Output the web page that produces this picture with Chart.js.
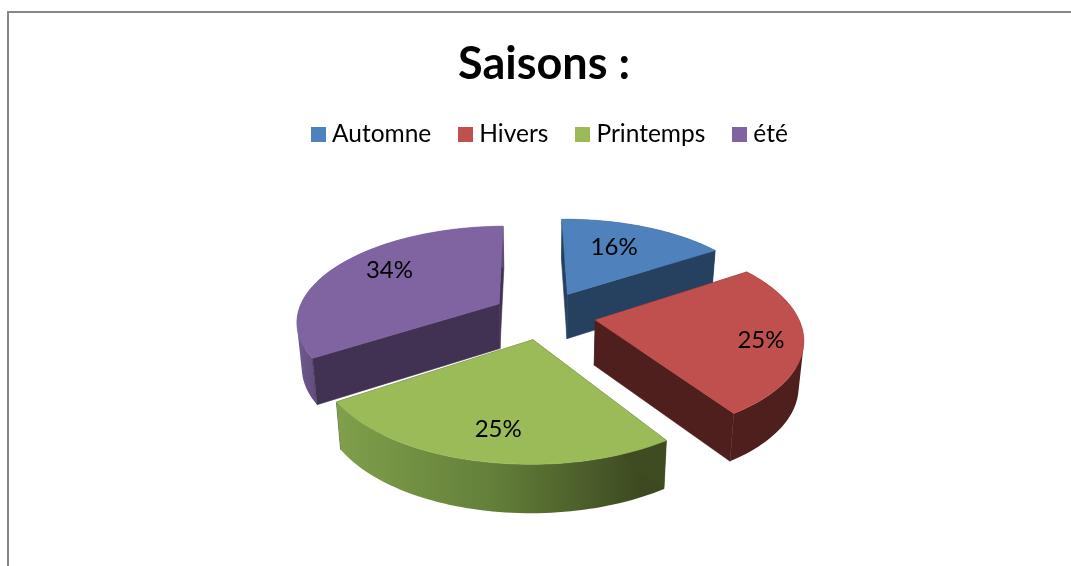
<!DOCTYPE html>
<html lang="fr">
<head>
<meta charset="utf-8">
<title>Saisons</title>
<script src="https://cdn.jsdelivr.net/npm/chart.js@4.4.1/dist/chart.umd.min.js"></script>
<style>
  html, body { margin: 0; padding: 0; background: #fff; overflow: hidden; }
  #wrap { position: relative; width: 1071px; height: 566px; overflow: hidden; }
  #frame { position: absolute; left: 7px; top: 11px; width: 1200px; height: 700px; border: 2px solid #868686; box-sizing: border-box; }
  #seasons { position: absolute; left: 0; top: 0; }
  #legendBar { position: absolute; left: 311px; top: 118px; display: flex; gap: 27px; font: 24.5px Lato, sans-serif; color: #000; line-height: 30px; white-space: nowrap; }
  .item { display: flex; align-items: center; }
  .swatch { width: 15px; height: 15px; margin-right: 6px; position: relative; top: 1px; }
</style>
</head>
<body>
<div id="wrap">
  <div id="frame"></div>
  <canvas id="seasons" width="1071" height="566"></canvas>
  <div id="legendBar"></div>
</div>
<script>
/* données */
const categories = ["Automne", "Hivers", "Printemps", "été"];
const values = [16, 25, 25, 34];
const titleText = "Saisons :";

/* couleurs */
const topColors = ["#4f81bd", "#c0504d", "#9bbb59", "#8064a2"];
const cutColors = ["#26405f", "#4f1f1d", "#3f4c22", "#413253"];

/* réglages de la vue 3D */
const scaleX = 1.018, scaleY = 0.4746, persp = 0.168, depth = 45, dropShrink = 0.98;
const labelFrac = [0.654, 0.80, 0.766, 0.705];
const labelNudge = [[-6, -1], [0, 4], [5, 1], [5, -5]];

// projette un point du plan du camembert vers l'écran
function project(el, p, drop) {
  const v = p[1] / el.outerRadius;
  const k = 1 / (1 - persp * v);
  const dx = scaleX * p[0] * k;
  return {
    x: el.x + (drop ? dx * dropShrink : dx),
    y: el.y + scaleY * p[1] * k + (drop ? depth * (1 + 0.07 * v) : 0),
  };
}

function outerWallFill(ctx, i) {
  if (i === 2) {
    const g = ctx.createLinearGradient(340, 0, 640, 0);
    g.addColorStop(0, "#7f9f4b");
    g.addColorStop(0.5, "#64803a");
    g.addColorStop(1, "#3d4a21");
    return g;
  }
  if (i === 3) {
    const g = ctx.createLinearGradient(296, 0, 322, 0);
    g.addColorStop(0, "#705b8e");
    g.addColorStop(1, "#5c4978");
    return g;
  }
  return cutColors[i];
}

function addPoly(ctx, points) {
  points.forEach((s, n) => (n ? ctx.lineTo(s.x, s.y) : ctx.moveTo(s.x, s.y)));
  ctx.closePath();
}

function fillPoly(ctx, points, fill) {
  ctx.beginPath();
  addPoly(ctx, points);
  ctx.fillStyle = fill;
  ctx.fill();
  ctx.strokeStyle = fill;
  ctx.lineWidth = 0.6;
  ctx.stroke();
}

// signe de l'aire, pour garder tous les quadrilatères dans le même sens
function area(q) {
  let a = 0;
  q.forEach((p, n) => {
    const r = q[(n + 1) % q.length];
    a += p.x * r.y - r.x * p.y;
  });
  return a;
}

const pie3d = {
  id: "pie3d",
  beforeDatasetsDraw(chart) {
    const ctx = chart.ctx;
    const arcs = chart.getDatasetMeta(0).data;
    const order = arcs.map((el, i) => i).sort((a, b) => {
      const ma = (arcs[a].startAngle + arcs[a].endAngle) / 2;
      const mb = (arcs[b].startAngle + arcs[b].endAngle) / 2;
      return Math.sin(ma) - Math.sin(mb);
    });

    order.forEach((i) => {
      const el = arcs[i];
      const mid = (el.startAngle + el.endAngle) / 2;
      const ox = el.options.offset * Math.cos(mid);
      const oy = el.options.offset * Math.sin(mid);
      const R = el.outerRadius;

      const tip = [ox, oy];
      const rim = [];
      const steps = 60;
      for (let s = 0; s <= steps; s++) {
        const a = el.startAngle + (el.endAngle - el.startAngle) * s / steps;
        rim.push([ox + R * Math.cos(a), oy + R * Math.sin(a)]);
      }
      const wall = (a, b) => [project(el, a), project(el, b), project(el, b, true), project(el, a, true)];

      // parois coupées : celle du fond, le bord extérieur, puis celle de devant
      const cuts = [wall(tip, rim[0]), wall(tip, rim[steps])];
      cuts.sort((a, b) => (a[1].y - b[1].y));
      fillPoly(ctx, cuts[0], cutColors[i]);

      ctx.beginPath();
      for (let s = 0; s < steps; s++) {
        const q = wall(rim[s], rim[s + 1]);
        if (area(q) < 0) q.reverse();
        addPoly(ctx, q);
      }
      ctx.fillStyle = outerWallFill(ctx, i);
      ctx.fill();

      fillPoly(ctx, cuts[1], cutColors[i]);

      // face du dessus
      fillPoly(ctx, [tip].concat(rim).map((p) => project(el, p)), el.options.backgroundColor);
    });

    // pourcentages
    ctx.fillStyle = "#000";
    ctx.font = "24px Lato, sans-serif";
    ctx.textAlign = "center";
    ctx.textBaseline = "middle";
    arcs.forEach((el, i) => {
      const mid = (el.startAngle + el.endAngle) / 2;
      const r = el.options.offset + labelFrac[i] * el.outerRadius;
      const s = project(el, [r * Math.cos(mid), r * Math.sin(mid)]);
      ctx.fillText(values[i] + "%", s.x + labelNudge[i][0], s.y + labelNudge[i][1]);
    });
    return false; // le dessin par défaut est remplacé
  },
};

const chart = new Chart(document.getElementById("seasons"), {
  type: "pie",
  data: {
    labels: categories,
    datasets: [{ data: values, backgroundColor: topColors, borderWidth: 0, offset: 51 }],
  },
  options: {
    responsive: false,
    animation: false,
    rotation: -0.8,
    layout: { padding: { left: 17, right: 0, top: 0, bottom: 27 } },
    plugins: {
      title: {
        display: true,
        text: titleText,
        color: "#000",
        font: { family: "Lato, sans-serif", size: 45, weight: "bold" },
        padding: { top: 37, bottom: 0 },
      },
      legend: { display: false }, // légende HTML
      tooltip: { enabled: false },
    },
  },
  plugins: [pie3d],
});

/* légende */
const legendBar = document.getElementById("legendBar");
categories.forEach((name, i) => {
  const item = document.createElement("div");
  item.className = "item";
  item.innerHTML = `<span class="swatch" style="background:${topColors[i]}"></span>${name}`;
  legendBar.appendChild(item);
});
</script>
</body>
</html>
